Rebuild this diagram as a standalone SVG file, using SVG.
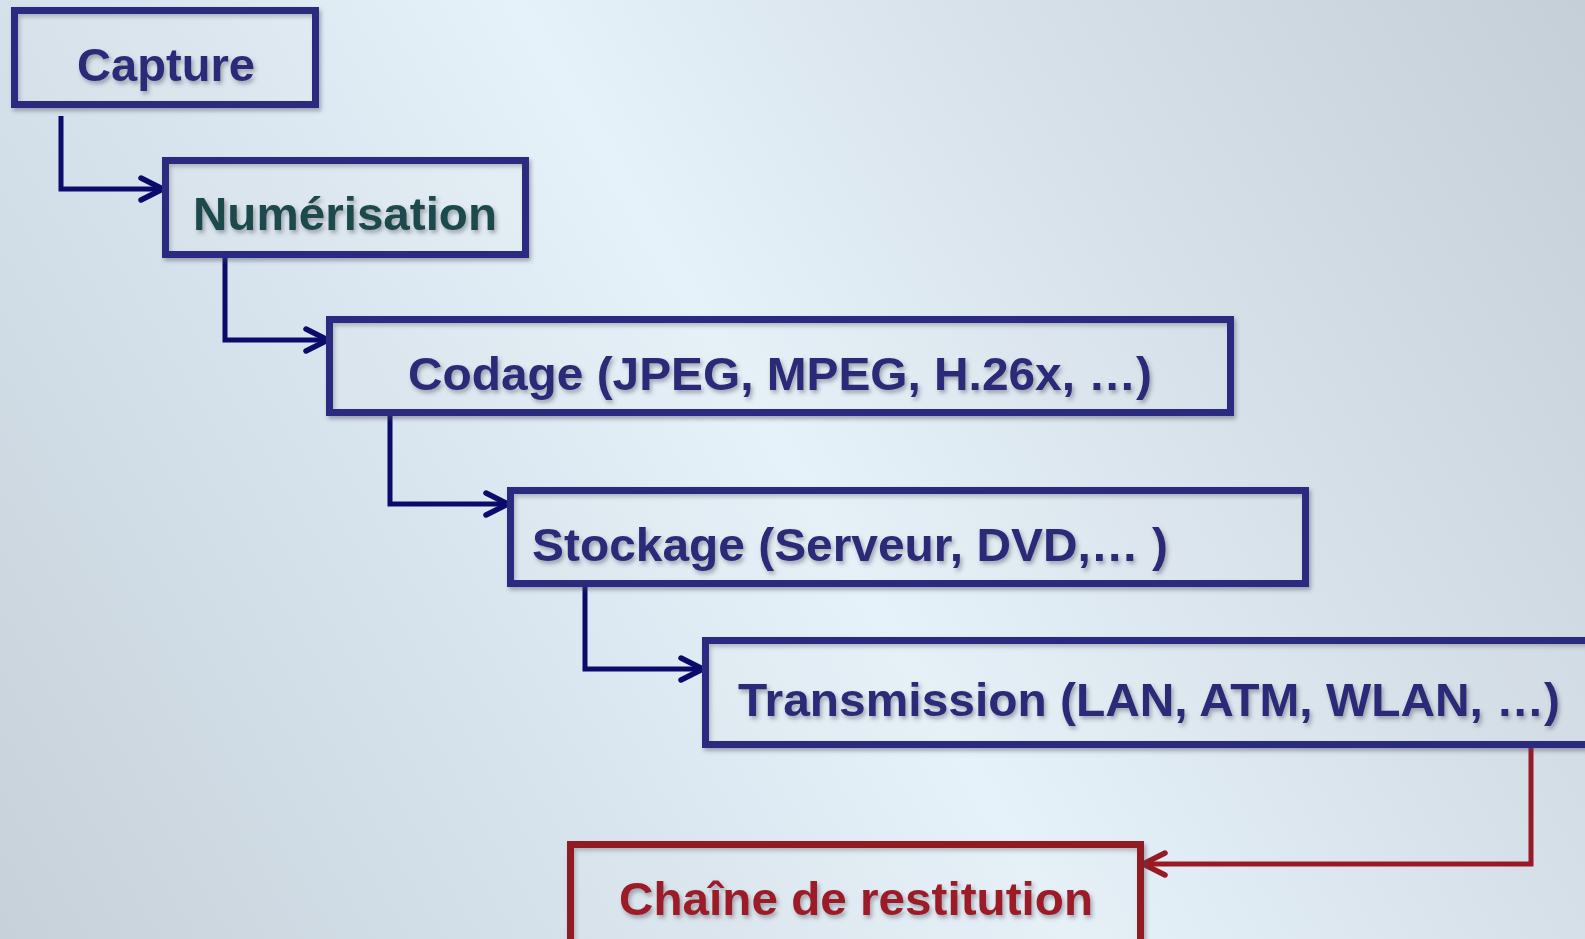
<svg xmlns="http://www.w3.org/2000/svg" width="1585" height="939" viewBox="0 0 1585 939">
  <defs>
    <linearGradient id="bg" x1="0" y1="939" x2="1585" y2="0" gradientUnits="userSpaceOnUse">
      <stop offset="0" stop-color="#c6d1da"/>
      <stop offset="0.3" stop-color="#d8e4ed"/>
      <stop offset="0.5" stop-color="#e6f2fa"/>
      <stop offset="0.72" stop-color="#d6e1ea"/>
      <stop offset="1" stop-color="#c4cfd8"/>
    </linearGradient>
    <filter id="sh" x="-10%" y="-20%" width="120%" height="150%">
      <feDropShadow dx="2" dy="3" stdDeviation="2" flood-color="#4a4a5a" flood-opacity="0.45"/>
    </filter>
    <marker id="arrB" markerUnits="userSpaceOnUse" viewBox="0 0 30 28" markerWidth="30" markerHeight="28" refX="26" refY="14" orient="auto">
      <path d="M4,3 L26,14 L4,25" fill="none" stroke="#0b0b6c" stroke-width="5.5" stroke-linecap="round" stroke-linejoin="miter"/>
    </marker>
    <marker id="arrR" markerUnits="userSpaceOnUse" viewBox="0 0 30 28" markerWidth="30" markerHeight="28" refX="26" refY="14" orient="auto">
      <path d="M4,3 L26,14 L4,25" fill="none" stroke="#981a26" stroke-width="5.5" stroke-linecap="round" stroke-linejoin="miter"/>
    </marker>
  </defs>
  <style>
    .box { fill: #ffffff; fill-opacity: 0.08; stroke: #2c2c80; stroke-width: 7; filter: url(#sh); }
    .rbox { fill: #ffffff; fill-opacity: 0.08; stroke: #8e1a24; stroke-width: 7; filter: url(#sh); }
    .lbl { font-family: "Liberation Sans", Arial, sans-serif; font-weight: bold; font-size: 47px; fill: #2a2a78; filter: url(#sh); }
    .teal { fill: #1f4a4c; }
    .red { fill: #9b1b26; }
    .cb { fill: none; stroke: #0b0b6c; stroke-width: 5; marker-end: url(#arrB); }
    .cr { fill: none; stroke: #981a26; stroke-width: 5; marker-end: url(#arrR); }
  </style>
  <rect x="0" y="0" width="1585" height="939" fill="url(#bg)"/>

  <g id="connectors">
    <path class="cb" d="M61,116 V189 H163"/>
    <path class="cb" d="M225,252 V340 H328"/>
    <path class="cb" d="M390,414 V504 H508"/>
    <path class="cb" d="M585,581 V669 H703"/>
    <path class="cr" d="M1531,746 V864 H1143"/>
  </g>

  <g id="node-capture">
    <rect class="box" x="14.5" y="10.5" width="301" height="94"/>
    <text class="lbl" x="77" y="81" textLength="178" lengthAdjust="spacingAndGlyphs">Capture</text>
  </g>
  <g id="node-numerisation">
    <rect class="box" x="165.5" y="160.5" width="360" height="94"/>
    <text class="lbl teal" x="193" y="230" textLength="304" lengthAdjust="spacingAndGlyphs">Numérisation</text>
  </g>
  <g id="node-codage">
    <rect class="box" x="329.5" y="319.5" width="901" height="93"/>
    <text class="lbl" x="408" y="390" textLength="744" lengthAdjust="spacingAndGlyphs">Codage (JPEG, MPEG, H.26x, …)</text>
  </g>
  <g id="node-stockage">
    <rect class="box" x="510.5" y="490.5" width="795" height="93"/>
    <text class="lbl" x="532" y="561" textLength="636" lengthAdjust="spacingAndGlyphs">Stockage (Serveur, DVD,… )</text>
  </g>
  <g id="node-transmission">
    <rect class="box" x="705.5" y="640.5" width="910" height="104"/>
    <text class="lbl" x="738" y="716" textLength="822" lengthAdjust="spacingAndGlyphs">Transmission (LAN, ATM, WLAN, …)</text>
  </g>
  <g id="node-restitution">
    <rect class="rbox" x="570.5" y="844.5" width="570" height="120"/>
    <text class="lbl red" x="619" y="915" textLength="474" lengthAdjust="spacingAndGlyphs">Chaîne de restitution</text>
  </g>
</svg>
